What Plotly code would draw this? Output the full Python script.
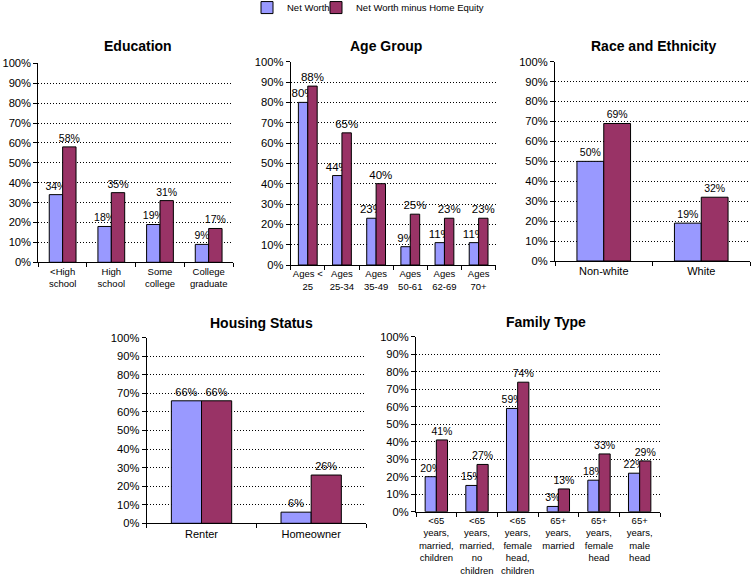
import plotly.graph_objects as go

W, H = 753, 577

edu_cats = ["&lt;High<br>school", "High<br>school", "Some<br>college", "College<br>graduate"]
edu_nw = [34, 18, 19, 9]
edu_nwme = [58, 35, 31, 17]

age_cats = ["Ages &lt;<br>25", "Ages<br>25-34", "Ages<br>35-49", "Ages<br>50-61", "Ages<br>62-69", "Ages<br>70+"]
age_nw = [80, 44, 23, 9, 11, 11]
age_nwme = [88, 65, 40, 25, 23, 23]

race_cats = ["Non-white", "White"]
race_nw = [50, 19]
race_nwme = [69, 32]

house_cats = ["Renter", "Homeowner"]
house_nw = [66, 6]
house_nwme = [66, 26]

fam_cats = ["&lt;65<br>years,<br>married,<br>children", "&lt;65<br>years,<br>married,<br>no<br>children",
            "&lt;65<br>years,<br>female<br>head,<br>children", "65+<br>years,<br>married",
            "65+<br>years,<br>female<br>head", "65+<br>years,<br>male<br>head"]
fam_nw = [20, 15, 59, 3, 18, 22]
fam_nwme = [41, 27, 74, 13, 33, 29]

series_names = ["Net Worth", "Net Worth minus Home Equity"]
colors = ["#9999FF", "#993366"]

FONT = "Liberation Sans, Arial, sans-serif"

# title, cats, nw, nwme, x-domain px, y-domain px (top,bottom), title pos px, xlabel size, data label size
panels = [
    ("Education", edu_cats, edu_nw, edu_nwme, (38.3, 233), (63.3, 262.3), (138, 46), 9.5, 10.5),
    ("Age Group", age_cats, age_nw, age_nwme, (290.7, 495.7), (61.7, 265), (386.3, 46), 9.5, 11.5),
    ("Race and Ethnicity", race_cats, race_nw, race_nwme, (555, 750), (61.7, 261), (653.8, 46.5), 11, 10.5),
    ("Housing Status", house_cats, house_nw, house_nwme, (146.7, 366), (337.7, 523.3), (261.7, 323.3), 11, 11),
    ("Family Type", fam_cats, fam_nw, fam_nwme, (416, 660), (336.7, 511.7), (546.3, 321.7), 9.5, 10.5),
]

fig = go.Figure()
layout = dict(
    template="none",
    width=W, height=H,
    margin=dict(l=0, r=0, t=0, b=0, autoexpand=False),
    paper_bgcolor="white", plot_bgcolor="white",
    font=dict(family=FONT, color="black", size=11),
    barmode="group", bargap=0.45, bargroupgap=0,
    showlegend=True,
    legend=dict(orientation="h", x=247 / W, y=1.012, xanchor="left", yanchor="top",
                font=dict(size=9.5, family=FONT), itemwidth=30,
                bgcolor="rgba(0,0,0,0)"),
    legend2=dict(orientation="h", x=316 / W, y=1.012, xanchor="left", yanchor="top",
                 font=dict(size=9.5, family=FONT), itemwidth=30,
                 bgcolor="rgba(0,0,0,0)"),
    annotations=[],
)

for i, (title, cats, nw, nwme, xd, yd, tp, xfs, tfs) in enumerate(panels):
    ax = "" if i == 0 else str(i + 1)
    for j, (vals, name) in enumerate([(nw, series_names[0]), (nwme, series_names[1])]):
        fig.add_trace(go.Bar(
            x=cats, y=vals, name=name, xaxis="x" + ax, yaxis="y" + ax,
            marker=dict(color=colors[j], line=dict(color="black", width=1)),
            text=["%d%%" % v for v in vals], texttemplate="%{text}",
            textposition="outside", constraintext="none",
            cliponaxis=False, textfont=dict(size=tfs, color="black", family=FONT),
            showlegend=(i == 0), legend="legend" if j == 0 else "legend2",
            legendgroup=name, hoverinfo="skip",
        ))
    layout["xaxis" + ax] = dict(
        domain=[xd[0] / W, xd[1] / W], anchor="y" + ax, automargin=False,
        showline=True, linecolor="black", linewidth=1,
        ticks="outside", tickson="boundaries", ticklen=4, tickcolor="black",
        showgrid=False, tickfont=dict(size=xfs), tickangle=0, fixedrange=True,
    )
    layout["yaxis" + ax] = dict(
        domain=[1 - yd[1] / H, 1 - yd[0] / H], anchor="x" + ax, automargin=False,
        range=[0, 100], dtick=10, ticksuffix="%",
        showline=True, linecolor="black", linewidth=1,
        ticks="outside", ticklen=4, tickcolor="black",
        showgrid=True, gridcolor="black", griddash="1px,2px", gridwidth=1,
        zeroline=False, tickfont=dict(size=11.2), fixedrange=True,
    )
    layout["annotations"].append(dict(
        text="<b>%s</b>" % title, xref="paper", yref="paper",
        x=tp[0] / W, y=1 - tp[1] / H, xanchor="center", yanchor="middle",
        showarrow=False, font=dict(size=14, family=FONT, color="black"),
    ))

fig.update_layout(**layout)
fig.write_html("out.html", config={"displayModeBar": False},
               post_script="document.body.style.margin='0px';document.body.style.overflow='hidden';")
